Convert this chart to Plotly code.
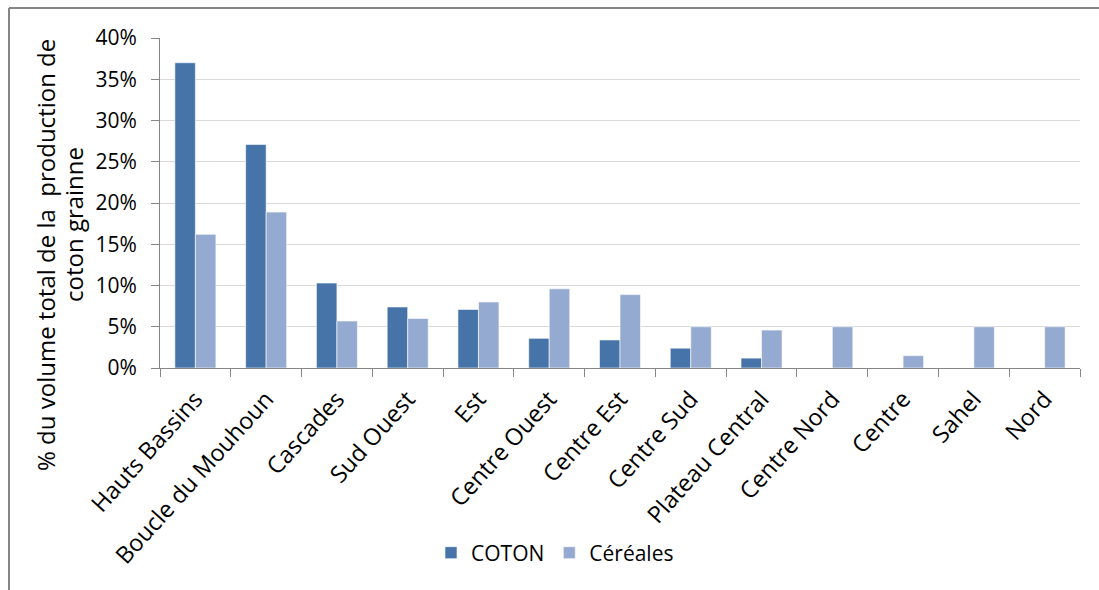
import plotly.graph_objects as go

regions = ["Hauts Bassins", "Boucle du Mouhoun", "Cascades", "Sud Ouest", "Est",
           "Centre Ouest", "Centre Est", "Centre Sud", "Plateau Central",
           "Centre Nord", "Centre", "Sahel", "Nord"]
coton = [0.370, 0.271, 0.103, 0.074, 0.071, 0.036, 0.034, 0.024, 0.012, 0.0, 0.0, 0.0, 0.0]
cereales = [0.162, 0.189, 0.057, 0.060, 0.080, 0.096, 0.089, 0.050, 0.046, 0.050, 0.015, 0.050, 0.050]
y_ticks = [0, 0.05, 0.10, 0.15, 0.20, 0.25, 0.30, 0.35, 0.40]

FONT = "Open Sans, Lato, sans-serif"
W, H = 1099, 590
L, R, T, B = 160, 19, 38, 222
pw, ph = W - L - R, H - T - B

def px(x):
    return (x - L) / pw

def py(y):
    return (H - B - y) / ph

fig = go.Figure()
fig.add_trace(go.Bar(name="COTON", x=regions, y=coton,
                     marker=dict(color="#4674A8", line=dict(color="rgba(255,255,255,0.6)", width=1))))
fig.add_trace(go.Bar(name="Céréales", x=regions, y=cereales,
                     marker=dict(color="#95AAD1", line=dict(color="rgba(255,255,255,0.6)", width=1))))

fig.update_layout(
    width=W, height=H,
    margin=dict(l=L, r=R, t=T, b=B, autoexpand=False),
    paper_bgcolor="white", plot_bgcolor="white",
    barmode="group", bargap=0.42, bargroupgap=0,
    font=dict(family=FONT, size=21, color="#000000"),
    showlegend=True,
    legend=dict(orientation="h", x=px(555), y=py(553), xanchor="center", yanchor="middle",
                font=dict(size=21), itemwidth=30, traceorder="normal"),
    xaxis=dict(showline=True, linecolor="#868686", linewidth=1,
               ticks="outside", ticklen=8, tickcolor="#868686", tickson="boundaries",
               tickangle=-48, tickfont=dict(size=23.5), showgrid=False,
               ticklabelstandoff=7),
    yaxis=dict(range=[0, 0.40], tickvals=y_ticks, tickformat=".0%",
               showline=True, linecolor="#868686", linewidth=1,
               ticks="outside", ticklen=8, tickcolor="#868686",
               showgrid=True, gridcolor="#D9D9D9", gridwidth=1,
               tickfont=dict(size=21), zeroline=False, ticklabelstandoff=10),
)

fig.add_annotation(text="% du volume total de la  production de", xref="paper", yref="paper",
                   x=px(45), y=py(255), textangle=-90, showarrow=False,
                   font=dict(size=24), xanchor="center", yanchor="middle")
fig.add_annotation(text="coton grainne", xref="paper", yref="paper",
                   x=px(73), y=py(225), textangle=-90, showarrow=False,
                   font=dict(size=24), xanchor="center", yanchor="middle")

# outer chart frame
fig.add_shape(type="line", xref="paper", yref="paper", x0=px(9), x1=px(1099), y0=py(8), y1=py(8),
              line=dict(color="#868686", width=2))
fig.add_shape(type="line", xref="paper", yref="paper", x0=px(9), x1=px(9), y0=py(8), y1=py(590),
              line=dict(color="#868686", width=2))

fig.write_html("out.html")
